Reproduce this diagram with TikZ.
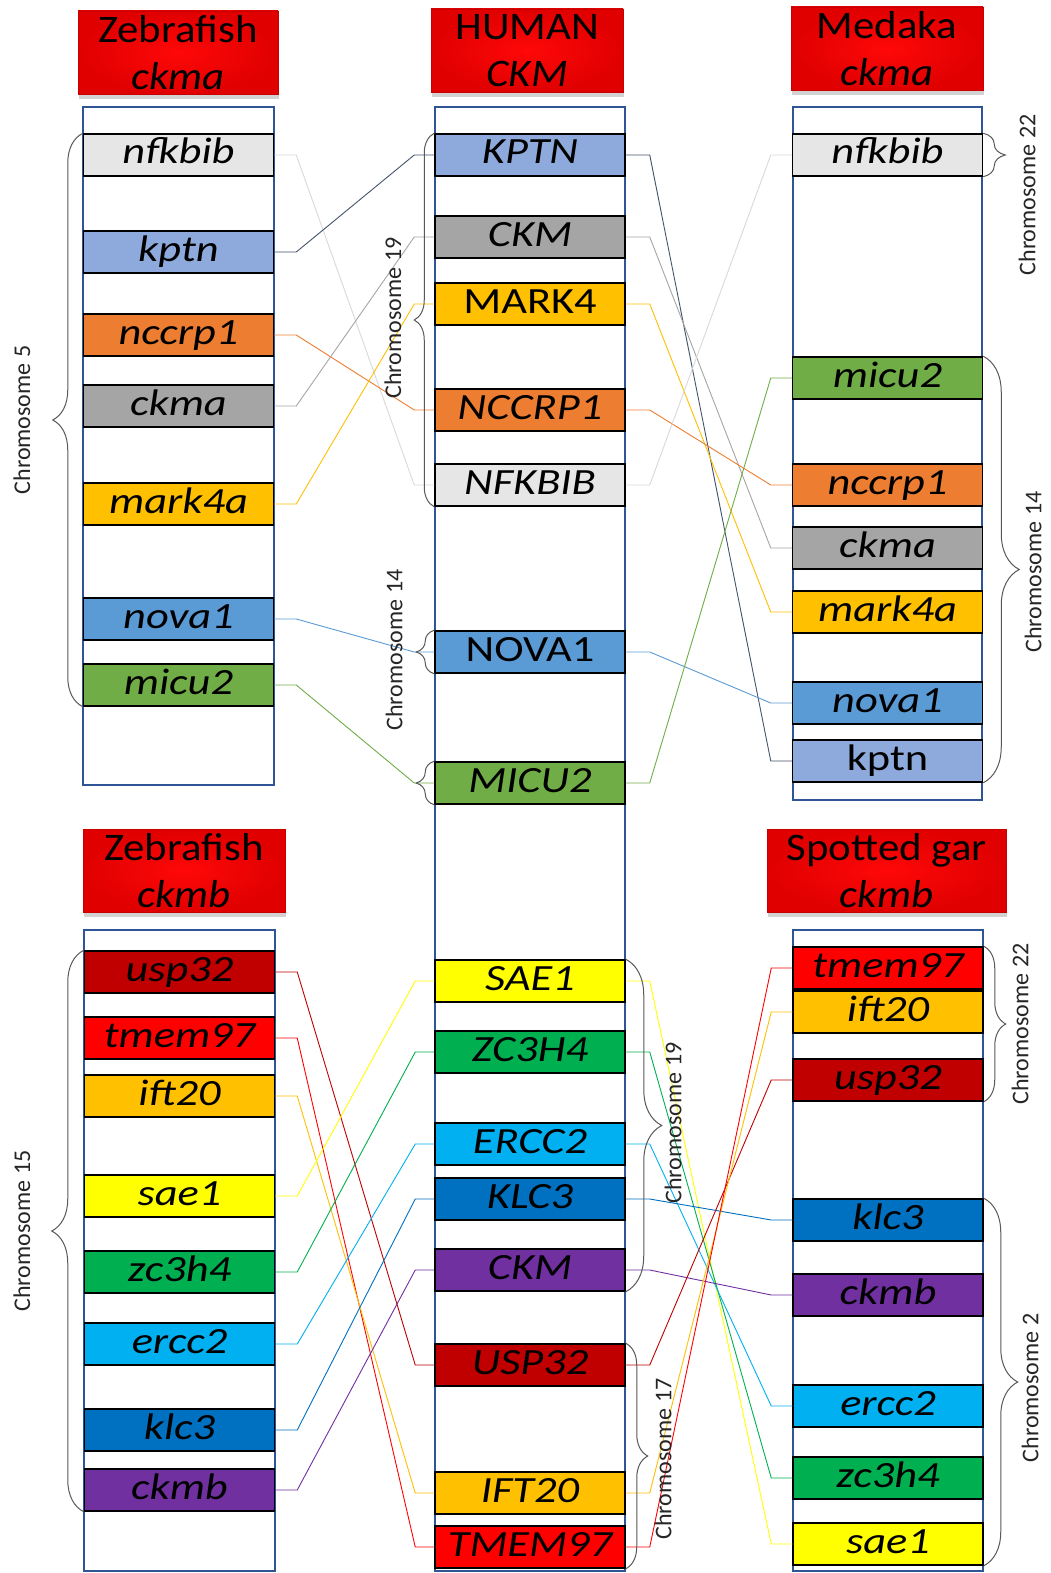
\documentclass[tikz,border=0pt]{standalone}
\usepackage{fontspec}
\setmainfont{Carlito}
\newfontfamily\genefont{Carlito}[FakeStretch=1.2]
\newfontfamily\titlefont{Carlito}[FakeStretch=1.1]
\usetikzlibrary{decorations.pathreplacing,shadows}

\definecolor{colblue}{HTML}{2F5597}
\definecolor{titlered}{HTML}{FF0808}
\definecolor{titledark}{HTML}{E00000}
\definecolor{titleedge}{HTML}{C80000}
\definecolor{bracegray}{HTML}{595959}
\definecolor{gNfk}{HTML}{E7E6E6}
\definecolor{gKptn}{HTML}{8EA9DB}
\definecolor{gNcc}{HTML}{ED7D31}
\definecolor{gCkm}{HTML}{A5A5A5}
\definecolor{gMark}{HTML}{FFC000}
\definecolor{gNova}{HTML}{5B9BD5}
\definecolor{gMicu}{HTML}{70AD47}
\definecolor{gUsp}{HTML}{C00000}
\definecolor{gTmem}{HTML}{FF0000}
\definecolor{gSae}{HTML}{FFFF00}
\definecolor{gZc}{HTML}{00B050}
\definecolor{gErcc}{HTML}{00B0F0}
\definecolor{gKlc}{HTML}{0070C0}
\definecolor{gCkmb}{HTML}{7030A0}
\definecolor{lNfk}{HTML}{D9D9D9}
\definecolor{lKptn}{HTML}{44546A}

\begin{document}
\begin{tikzpicture}[x=1pt,y=-1pt,
 gene/.style={draw=black,line width=1.5pt,minimum width=190pt,minimum height=42pt,inner sep=0pt,
   text height=24pt,text depth=6pt,font=\genefont\fontsize{37}{40}\selectfont\itshape},
 title/.style={draw=titleedge,inner color=titlered,outer color=titledark,line width=0.6pt,minimum width=#1,
   minimum height=83pt,inner sep=0pt,align=center,font=\titlefont\fontsize{39}{47}\selectfont,
   drop shadow={shadow xshift=1pt,shadow yshift=-5pt,opacity=0.35}},
 chrom/.style={rotate=90,font=\fontsize{24}{26}\selectfont,text=black!85},
 brc/.style={decorate,decoration={brace,amplitude=#1},draw=bracegray,line width=1pt},
 link/.style={line width=0.9pt},
 column/.style={draw=colblue,line width=1.3pt}]

\fill[white] (0,0) rectangle (1051,1573);
\useasboundingbox (0,0) rectangle (1051,1573);

% titles
\node[title=200pt] (t-za) at (178,52.5) {Zebrafish\\\itshape ckma};
\node[title=192pt] (t-hu) at (527,50.5) {HUMAN\\\itshape CKM};
\node[title=192pt] (t-me) at (887,48.5) {Medaka\\\itshape ckma};
\node[title=202pt] (t-zb) at (184,870.5) {Zebrafish\\\itshape ckmb};
\node[title=239pt] (t-sg) at (886.5,870.5) {Spotted gar\\\itshape ckmb};

% chromosome columns
\draw[column] (83,107) rectangle (274,785);
\draw[column] (435,107) rectangle (625,1571);
\draw[column] (793,107) rectangle (982,800);
\draw[column] (84,930) rectangle (275,1571);
\draw[column] (793,930) rectangle (983,1571);

% genes
\foreach \n/\y/\c in {nfkbib/155/gNfk, kptn/252/gKptn, nccrp1/335/gNcc, ckma/406/gCkm,
  mark4a/504/gMark, nova1/619/gNova, micu2/685/gMicu}
  \node[gene,fill=\c] (za-\n) at (178.5,\y) {\n};

\foreach \n/\y/\c/\t in {KPTN/155/gKptn/KPTN, CKM/237/gCkm/CKM, MARK4/304/gMark/{\upshape MARK4},
  NCCRP1/410/gNcc/NCCRP1, NFKBIB/485/gNfk/NFKBIB, NOVA1/652/gNova/{\upshape NOVA1}, MICU2/783/gMicu/MICU2,
  SAE1/981/gSae/SAE1, ZC3H4/1052/gZc/ZC3H4, ERCC2/1144/gErcc/ERCC2, KLC3/1199/gKlc/KLC3,
  CKMb/1270/gCkmb/CKM, USP32/1365/gUsp/USP32, IFT20/1493/gMark/IFT20, TMEM97/1547/gTmem/TMEM97}
  \node[gene,fill=\c] (hu-\n) at (530,\y) {\t};

\foreach \n/\y/\c/\t in {nfkbib/155/gNfk/nfkbib, micu2/378/gMicu/micu2, nccrp1/485/gNcc/nccrp1,
  ckma/548/gCkm/ckma, mark4a/612/gMark/mark4a, nova1/703/gNova/nova1, kptn/761/gKptn/{\upshape kptn}}
  \node[gene,fill=\c] (me-\n) at (887.5,\y) {\t};

\foreach \n/\y/\c in {usp32/972/gUsp, tmem97/1038/gTmem, ift20/1096/gMark, sae1/1196/gSae,
  zc3h4/1272/gZc, ercc2/1344/gErcc, klc3/1430/gKlc, ckmb/1490/gCkmb}
  \node[gene,fill=\c] (zb-\n) at (179.5,\y) {\n};

\foreach \n/\y/\c in {tmem97/968/gTmem, ift20/1012/gMark, usp32/1080/gUsp, klc3/1220/gKlc,
  ckmb/1295/gCkmb, ercc2/1406/gErcc, zc3h4/1478/gZc, sae1/1544/gSae}
  \node[gene,fill=\c] (sg-\n) at (888,\y) {\n};

% links
\foreach \a/\b/\c in {nfkbib/NFKBIB/lNfk, kptn/KPTN/lKptn, nccrp1/NCCRP1/gNcc, ckma/CKM/gCkm,
  mark4a/MARK4/gMark, nova1/NOVA1/gNova, micu2/MICU2/gMicu}
  \draw[link,color=\c] (za-\a.east) -- ++(22,0) -- ([xshift=-20pt]hu-\b.west) -- (hu-\b.west);
\foreach \a/\b/\c in {KPTN/kptn/lKptn, CKM/ckma/gCkm, MARK4/mark4a/gMark, NCCRP1/nccrp1/gNcc,
  NFKBIB/nfkbib/lNfk, NOVA1/nova1/gNova, MICU2/micu2/gMicu}
  \draw[link,color=\c] (hu-\a.east) -- ++(24,0) -- ([xshift=-21pt]me-\b.west) -- (me-\b.west);
\foreach \a/\b/\c in {usp32/USP32/gUsp, tmem97/TMEM97/gTmem, ift20/IFT20/gMark, sae1/SAE1/gSae,
  zc3h4/ZC3H4/gZc, ercc2/ERCC2/gErcc, klc3/KLC3/gKlc, ckmb/CKMb/gCkmb}
  \draw[link,color=\c] (zb-\a.east) -- ++(22,0) -- ([xshift=-19pt]hu-\b.west) -- (hu-\b.west);
\foreach \a/\b/\c in {SAE1/sae1/gSae, ZC3H4/zc3h4/gZc, ERCC2/ercc2/gErcc, KLC3/klc3/gKlc,
  CKMb/ckmb/gCkmb, USP32/usp32/gUsp, IFT20/ift20/gMark, TMEM97/tmem97/gTmem}
  \draw[link,color=\c] (hu-\a.east) -- ++(24,0) -- ([xshift=-21pt]sg-\b.west) -- (sg-\b.west);

% braces and chromosome labels
\draw[brc=30] (za-micu2.south west) -- (za-nfkbib.north west);
\node[chrom] (c-za) at (22,420) {Chromosome 5};
\draw[brc=20] (hu-NFKBIB.south west) -- (hu-KPTN.north west);
\node[chrom] (c-hu19) at (393,318) {Chromosome 19};
\draw[brc=18] (hu-NOVA1.south west) -- (hu-NOVA1.north west);
\draw[brc=18] (hu-MICU2.south west) -- (hu-MICU2.north west);
\node[chrom] (c-hu14) at (394,650) {Chromosome 14};
\draw[brc=22] (me-nfkbib.north east) -- (me-nfkbib.south east);
\node[chrom] (c-me22) at (1027,195) {Chromosome 22};
\draw[brc=36] (me-micu2.north east) -- (me-kptn.south east);
\node[chrom] (c-me14) at (1033,572) {Chromosome 14};
\draw[brc=32] (zb-ckmb.south west) -- (zb-usp32.north west);
\node[chrom] (c-zb) at (22,1231) {Chromosome 15};
\draw[brc=36] (hu-SAE1.north east) -- (hu-CKMb.south east);
\node[chrom] (c-hu19b) at (673,1123) {Chromosome 19};
\draw[brc=22] (hu-USP32.north east) -- (hu-TMEM97.south east);
\node[chrom] (c-hu17) at (663,1459) {Chromosome 17};
\draw[brc=22] (sg-tmem97.north east) -- (sg-usp32.south east);
\node[chrom] (c-sg22) at (1020,1024) {Chromosome 22};
\draw[brc=34] (sg-klc3.north east) -- (sg-sae1.south east);
\node[chrom] (c-sg2) at (1030,1388) {Chromosome 2};

\end{tikzpicture}
\end{document}
